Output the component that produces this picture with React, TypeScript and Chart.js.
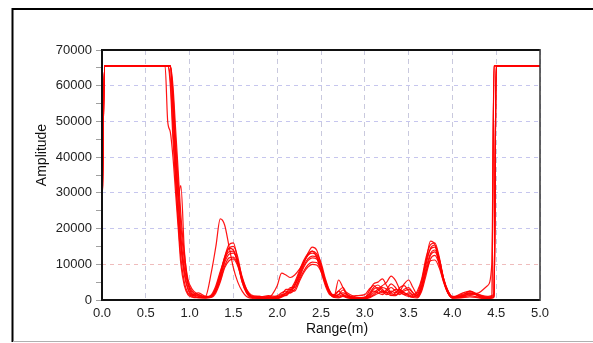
import React, { useEffect, useRef } from "react";
import { Chart, registerables } from "chart.js";

Chart.register(...registerables);

// Range positions (m) shared by all traces
const rangeM = [
  0, 0.03, 0.72, 0.75, 0.78, 0.81, 0.84, 0.87, 0.9, 0.94,
  0.98, 1.03, 1.1, 1.18, 1.25, 1.3, 1.35, 1.4, 1.45, 1.5,
  1.55, 1.6, 1.65, 1.7, 1.8, 1.9, 2.0, 2.05, 2.1, 2.15,
  2.2, 2.25, 2.3, 2.35, 2.4, 2.45, 2.5, 2.55, 2.6, 2.65,
  2.7, 2.75, 2.8, 2.9, 3.0, 3.05, 3.1, 3.15, 3.2, 3.25,
  3.3, 3.35, 3.4, 3.45, 3.5, 3.55, 3.6, 3.65, 3.7, 3.75,
  3.8, 3.85, 3.9, 3.95, 4.0, 4.1, 4.2, 4.3, 4.4, 4.45,
  4.475, 4.5, 5.0,
];

const trace1 = [
  23000, 65535, 65535, 65535, 60000, 45000, 33000, 22000, 12000, 5000,
  2000, 1000, 700, 900, 8000, 15000, 22700, 21000, 15000, 9000,
  5000, 2500, 1000, 500, 300, 600, 4000, 7500, 7000, 6300,
  7000, 8500, 10500, 12500, 13700, 12000, 8000, 4000, 1500, 1200,
  2500, 3500, 1500, 600, 800, 1500, 3000, 3500, 2500, 1500,
  2000, 3000, 2500, 1500, 1000, 800, 1500, 4000, 8000, 11000,
  11200, 9000, 5000, 2000, 800, 1200, 1500, 2000, 4000, 10000,
  65535, 65535, 65535,
];
const trace2 = [
  23000, 65535, 65535, 50000, 47000, 40000, 30000, 20000, 10000, 4000,
  1500, 800, 600, 500, 800, 3000, 7000, 12000, 15500, 16000,
  11000, 5000, 2000, 800, 500, 800, 400, 800, 1500, 2500,
  4000, 7000, 10000, 13000, 14800, 14000, 10000, 5000, 2000, 1000,
  5600, 3500, 1200, 500, 700, 2500, 4500, 5000, 5900, 4000,
  2000, 1500, 2500, 4500, 5600, 3500, 1500, 5000, 11000, 16500,
  15500, 10000, 5000, 1800, 600, 1000, 2500, 1500, 800, 1000,
  1500, 65535, 65535,
];
const trace3 = [
  23000, 65535, 65535, 65535, 65535, 52000, 38000, 29000, 32000, 14000,
  5000, 1500, 800, 700, 1000, 2500, 6000, 11000, 14500, 15000,
  12000, 6000, 2500, 1000, 400, 300, 600, 1000, 2000, 3000,
  5000, 8000, 11000, 13000, 13700, 13000, 10500, 6000, 2500, 1200,
  1500, 2800, 2000, 800, 500, 1000, 2000, 3000, 4000, 5000,
  6700, 5500, 3000, 2000, 1500, 1000, 2500, 6000, 12000, 15500,
  16000, 12000, 6000, 2500, 800, 1500, 2000, 1200, 600, 800,
  1200, 65535, 65535,
];
const trace4 = [
  23000, 65535, 65535, 65535, 62000, 48000, 35000, 24000, 15000, 7000,
  3000, 1200, 1500, 800, 1200, 3500, 7500, 12000, 14500, 14000,
  10000, 5000, 2000, 800, 1000, 500, 800, 1500, 1200, 2500,
  4500, 7500, 10500, 12500, 13100, 12500, 9500, 5000, 2000, 1500,
  2500, 1500, 800, 1200, 1500, 3000, 4000, 3000, 2000, 3000,
  4500, 3500, 2000, 3000, 3500, 2000, 1200, 4000, 10000, 14500,
  15400, 11500, 5500, 2000, 700, 1800, 2500, 1000, 500, 700,
  65535, 65535, 65535,
];
const trace5 = [
  23000, 65535, 65535, 65535, 65535, 55000, 42000, 30000, 18000, 9000,
  4500, 2000, 1000, 600, 1500, 4000, 8000, 11500, 13500, 13700,
  10500, 6000, 2500, 1000, 600, 1000, 500, 1000, 2000, 2000,
  4000, 6500, 9500, 11500, 12300, 12000, 9500, 5500, 2500, 1000,
  1500, 2000, 1500, 500, 600, 1800, 3500, 4200, 3000, 2000,
  2500, 2000, 3500, 4000, 2500, 1500, 2000, 5500, 11000, 14200,
  14800, 11500, 6000, 2500, 1000, 1000, 2000, 1500, 1000, 1200,
  2000, 65535, 65535,
];
const trace6 = [
  23000, 65535, 65535, 65535, 65535, 58000, 45000, 33000, 21000, 11000,
  5000, 2500, 1200, 1000, 1200, 3000, 6500, 10500, 12800, 13100,
  11000, 6500, 3000, 1200, 800, 1200, 1000, 1200, 1800, 3500,
  3500, 6000, 9000, 11000, 11800, 11500, 9000, 5000, 2000, 800,
  1000, 1500, 1000, 400, 500, 1200, 2500, 2000, 1500, 2500,
  3500, 2500, 1500, 2500, 3000, 2000, 1000, 3500, 9000, 13000,
  14000, 11000, 6000, 2500, 900, 800, 1800, 1200, 700, 900,
  65535, 65535, 65535,
];
const trace7 = [
  23000, 65535, 65535, 65535, 65535, 60000, 48000, 36000, 24000, 13000,
  6000, 3000, 1500, 800, 1000, 2500, 5500, 9500, 11800, 12000,
  10000, 6000, 3000, 1500, 1000, 700, 1200, 2000, 2500, 2000,
  3000, 5500, 8000, 9800, 10600, 10500, 8500, 5000, 2200, 1000,
  800, 1200, 700, 300, 400, 800, 1500, 2500, 3500, 3000,
  1500, 1200, 2000, 1500, 2000, 1200, 800, 3000, 8000, 12500,
  13500, 10500, 5500, 2000, 600, 700, 1200, 800, 400, 600,
  1000, 65535, 65535,
];
const trace8 = [
  23000, 65535, 65535, 65535, 65535, 56000, 40000, 27000, 16000, 8000,
  3500, 1500, 2000, 1000, 800, 2000, 5000, 9000, 11000, 11500,
  9500, 5500, 2500, 1200, 700, 500, 800, 1200, 3000, 3000,
  2500, 5000, 7500, 9200, 10000, 9800, 8000, 4500, 1800, 700,
  600, 1000, 600, 300, 300, 600, 1200, 1800, 2500, 2000,
  1200, 2000, 3000, 2000, 1200, 700, 600, 2500, 7000, 11500,
  12500, 10000, 5500, 2000, 500, 600, 900, 600, 300, 500,
  800, 65535, 65535,
];

const traces = [trace1, trace2, trace3, trace4, trace5, trace6, trace7, trace8];

const xMin = 0;
const xMax = 5;
const xStep = 0.5;
const yMin = 0;
const yMax = 70000;
const yStep = 5000;
const yLabelStep = 10000;

const xTitle = "Range(m)";
const yTitle = "Amplitude";

const FONT = "'Liberation Sans', Arial, sans-serif";

const framePlugin = {
  id: "framePlugin",
  afterDraw(chart: any) {
    const { ctx, chartArea } = chart;
    const { left, right, top, bottom } = chartArea;
    ctx.save();
    // outer window frame
    ctx.strokeStyle = "#000";
    ctx.lineWidth = 2;
    ctx.beginPath();
    ctx.moveTo(12.5, 342);
    ctx.lineTo(12.5, 9);
    ctx.lineTo(593, 9);
    ctx.stroke();
    ctx.strokeStyle = "#b0b0b0";
    ctx.lineWidth = 1;
    ctx.beginPath();
    ctx.moveTo(13, 341.5);
    ctx.lineTo(593, 341.5);
    ctx.stroke();
    // plot box
    ctx.strokeStyle = "#111";
    ctx.lineWidth = 2;
    ctx.beginPath();
    ctx.moveTo(right, top);
    ctx.lineTo(left, top);
    ctx.lineTo(left, bottom);
    ctx.lineTo(right, bottom);
    ctx.stroke();
    ctx.strokeStyle = "#333";
    ctx.lineWidth = 1.5;
    ctx.beginPath();
    ctx.moveTo(right, top - 1);
    ctx.lineTo(right, bottom + 1);
    ctx.stroke();
    // axis titles
    ctx.fillStyle = "#111";
    ctx.font = "14px 'Liberation Sans', Arial, sans-serif";
    ctx.textAlign = "center";
    ctx.textBaseline = "middle";
    ctx.fillText(xTitle, 337, 329);
    ctx.translate(42, 155);
    ctx.rotate(-Math.PI / 2);
    ctx.fillText(yTitle, 0, 0);
    ctx.restore();
  },
};

export default function App() {
  const canvasRef = useRef<HTMLCanvasElement | null>(null);

  useEffect(() => {
    if (!canvasRef.current) return;
    const datasets = traces.map((t, k) => ({
      label: `trace${k + 1}`,
      data: rangeM.map((x, i) => ({ x, y: t[i] })),
      borderColor: "rgba(255,0,0,0.92)",
      borderWidth: 1.2,
      pointRadius: 0,
      fill: false,
      cubicInterpolationMode: "monotone" as const,
    }));
    const chart = new Chart(canvasRef.current, {
      type: "line",
      data: { datasets },
      options: {
        animation: false,
        responsive: false,
        maintainAspectRatio: false,
        layout: { padding: { left: 0, top: 50, right: 53, bottom: 0 } },
        plugins: { legend: { display: false }, tooltip: { enabled: false } },
        scales: {
          x: {
            type: "linear",
            min: xMin,
            max: xMax,
            afterFit: (s: any) => {
              s.height = 43;
            },
            border: { display: false, dash: [5, 4] },
            grid: {
              color: "#c9c9de",
              lineWidth: 1,
              tickColor: "transparent",
              tickLength: 4,
            },
            ticks: {
              stepSize: xStep,
              autoSkip: false,
              maxRotation: 0,
              padding: 2,
              color: "#222",
              font: { family: FONT, size: 13 },
              callback: (v: any) => Number(v).toFixed(1),
            },
          },
          y: {
            type: "linear",
            min: yMin,
            max: yMax,
            afterFit: (s: any) => {
              s.width = 102;
            },
            border: { display: false, dash: [4, 4] },
            grid: {
              color: (c: any) => {
                const v = c.tick ? c.tick.value : 0;
                if (v % yLabelStep !== 0) return "transparent";
                if (v === 10000) return "#efbcbc";
                return "#c6c6ee";
              },
              lineWidth: 1,
              tickColor: "#a0a0a0",
              tickLength: 6,
            },
            ticks: {
              stepSize: yStep,
              autoSkip: false,
              padding: 4,
              color: "#222",
              font: { family: FONT, size: 13 },
              callback: (v: any) => (Number(v) % yLabelStep === 0 ? String(v) : ""),
            },
          },
        },
      },
      plugins: [framePlugin],
    });
    return () => chart.destroy();
  }, []);

  return (
    <div style={{ position: "fixed", left: 0, top: 0, width: 593, height: 343, background: "#fff" }}>
      <canvas ref={canvasRef} width={593} height={343} style={{ display: "block" }} />
    </div>
  );
}
